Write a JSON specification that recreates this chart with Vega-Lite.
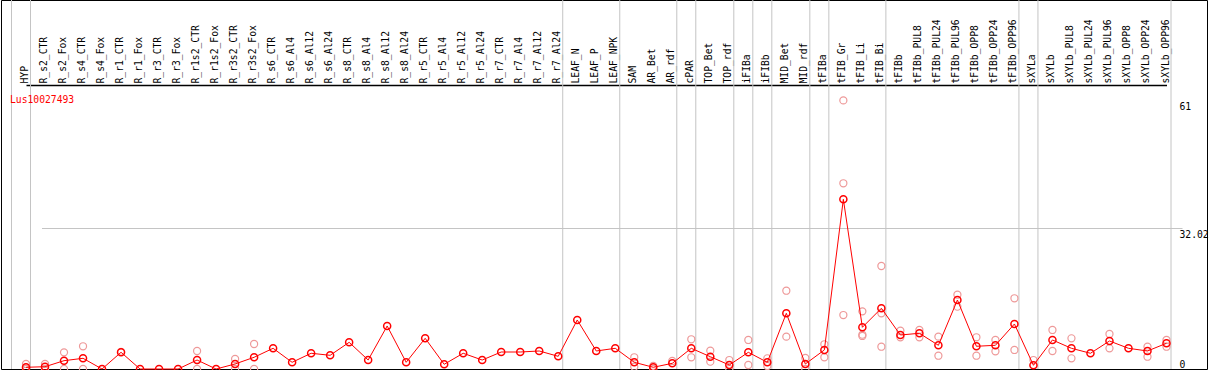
{
  "$schema": "https://vega.github.io/schema/vega-lite/v6.json",
  "width": 1206,
  "height": 369,
  "autosize": {"type": "none"},
  "padding": {"left": 1, "top": 0, "right": 2, "bottom": 1},
  "background": "white",
  "config": {"view": {"stroke": "black", "strokeWidth": 1}, "font": "DejaVu Sans Mono"},
  "title": {"text": "Lus10027493", "anchor": "start", "frame": "group", "color": "#ff0000", "font": "DejaVu Sans Mono", "fontSize": 9.7, "fontWeight": "normal", "offset": -113, "dx": 9, "baseline": "alphabetic"},
  "datasets": {
    "means": [
      {"cat": "HYP", "v": 0.39}, {"cat": "R_s2_CTR", "v": 0.52}, {"cat": "R_s2_Fox", "v": 1.89}, {"cat": "R_s4_CTR", "v": 2.43}, {"cat": "R_s4_Fox", "v": 0},
      {"cat": "R_r1_CTR", "v": 3.79}, {"cat": "R_r1_Fox", "v": 0}, {"cat": "R_r3_CTR", "v": 0}, {"cat": "R_r3_Fox", "v": 0}, {"cat": "R_r1s2_CTR", "v": 2.04},
      {"cat": "R_r1s2_Fox", "v": 0}, {"cat": "R_r3s2_CTR", "v": 1.14}, {"cat": "R_r3s2_Fox", "v": 2.66}, {"cat": "R_s6_CTR", "v": 4.7}, {"cat": "R_s6_Al4", "v": 1.52},
      {"cat": "R_s6_Al12", "v": 3.57}, {"cat": "R_s6_Al24", "v": 3.11}, {"cat": "R_s8_CTR", "v": 6.06}, {"cat": "R_s8_Al4", "v": 2.04}, {"cat": "R_s8_Al12", "v": 9.77},
      {"cat": "R_s8_Al24", "v": 1.52}, {"cat": "R_r5_CTR", "v": 6.97}, {"cat": "R_r5_Al4", "v": 1.07}, {"cat": "R_r5_Al12", "v": 3.57}, {"cat": "R_r5_Al24", "v": 2.04},
      {"cat": "R_r7_CTR", "v": 3.86}, {"cat": "R_r7_Al4", "v": 3.86}, {"cat": "R_r7_Al12", "v": 4.09}, {"cat": "R_r7_Al24", "v": 2.88}, {"cat": "LEAF_N", "v": 11.13},
      {"cat": "LEAF_P", "v": 4.09}, {"cat": "LEAF_NPK", "v": 4.7}, {"cat": "SAM", "v": 1.52}, {"cat": "AR_Bet", "v": 0.39}, {"cat": "AR_rdf", "v": 1.29},
      {"cat": "cPAR", "v": 4.7}, {"cat": "TOP_Bet", "v": 2.79}, {"cat": "TOP_rdf", "v": 0.91}, {"cat": "iFIBa", "v": 3.79}, {"cat": "iFIBb", "v": 1.52},
      {"cat": "MID_Bet", "v": 12.65}, {"cat": "MID_rdf", "v": 1.14}, {"cat": "tFIBa", "v": 4.32}, {"cat": "tFIB_Gr", "v": 38.54}, {"cat": "tFIB_Li", "v": 9.47},
      {"cat": "tFIB_Bi", "v": 13.79}, {"cat": "tFIBb", "v": 7.72}, {"cat": "tFIBb_PUL8", "v": 8.11}, {"cat": "tFIBb_PUL24", "v": 5.38}, {"cat": "tFIBb_PUL96", "v": 15.67},
      {"cat": "tFIBb_OPP8", "v": 5.16}, {"cat": "tFIBb_OPP24", "v": 5.38}, {"cat": "tFIBb_OPP96", "v": 10.22}, {"cat": "sXYLa", "v": 0.84}, {"cat": "sXYLb", "v": 6.59},
      {"cat": "sXYLb_PUL8", "v": 4.7}, {"cat": "sXYLb_PUL24", "v": 3.57}, {"cat": "sXYLb_PUL96", "v": 6.36}, {"cat": "sXYLb_OPP8", "v": 4.7}, {"cat": "sXYLb_OPP24", "v": 4.09},
      {"cat": "sXYLb_OPP96", "v": 5.84}
    ],
    "reps": [
      {"cat": "HYP", "v": 1.14}, {"cat": "HYP", "v": 0},
      {"cat": "R_s2_CTR", "v": 1.14}, {"cat": "R_s2_CTR", "v": 0},
      {"cat": "R_s2_Fox", "v": 3.79}, {"cat": "R_s2_Fox", "v": 0},
      {"cat": "R_s4_CTR", "v": 5.16}, {"cat": "R_s4_CTR", "v": 0},
      {"cat": "R_r1_CTR", "v": 3.9},
      {"cat": "R_r1s2_CTR", "v": 4.09}, {"cat": "R_r1s2_CTR", "v": 0},
      {"cat": "R_r3s2_CTR", "v": 2.27}, {"cat": "R_r3s2_CTR", "v": 0},
      {"cat": "R_r3s2_Fox", "v": 5.68}, {"cat": "R_r3s2_Fox", "v": 0},
      {"cat": "SAM", "v": 2.66}, {"cat": "SAM", "v": 0.52},
      {"cat": "AR_Bet", "v": 0.7}, {"cat": "AR_Bet", "v": 0},
      {"cat": "AR_rdf", "v": 1.82},
      {"cat": "cPAR", "v": 6.75}, {"cat": "cPAR", "v": 2.66},
      {"cat": "TOP_Bet", "v": 4.16}, {"cat": "TOP_Bet", "v": 1.66},
      {"cat": "TOP_rdf", "v": 2.04}, {"cat": "TOP_rdf", "v": 0},
      {"cat": "iFIBa", "v": 6.59}, {"cat": "iFIBa", "v": 0.91},
      {"cat": "iFIBb", "v": 2.43}, {"cat": "iFIBb", "v": 0.68},
      {"cat": "MID_Bet", "v": 17.78}, {"cat": "MID_Bet", "v": 7.34},
      {"cat": "MID_rdf", "v": 2.5}, {"cat": "MID_rdf", "v": 0},
      {"cat": "tFIBa", "v": 5.61}, {"cat": "tFIBa", "v": 2.66},
      {"cat": "tFIB_Gr", "v": 61}, {"cat": "tFIB_Gr", "v": 42.18}, {"cat": "tFIB_Gr", "v": 12.26},
      {"cat": "tFIB_Li", "v": 13.1}, {"cat": "tFIB_Li", "v": 7.79}, {"cat": "tFIB_Li", "v": 7.5},
      {"cat": "tFIB_Bi", "v": 23.39}, {"cat": "tFIB_Bi", "v": 12.65}, {"cat": "tFIB_Bi", "v": 5.06},
      {"cat": "tFIBb", "v": 8.7}, {"cat": "tFIBb", "v": 7.2},
      {"cat": "tFIBb_PUL8", "v": 8.86}, {"cat": "tFIBb_PUL8", "v": 7.2},
      {"cat": "tFIBb_PUL24", "v": 7.34}, {"cat": "tFIBb_PUL24", "v": 3.02},
      {"cat": "tFIBb_PUL96", "v": 16.87}, {"cat": "tFIBb_PUL96", "v": 14.15},
      {"cat": "tFIBb_OPP8", "v": 7.2}, {"cat": "tFIBb_OPP8", "v": 3.02},
      {"cat": "tFIBb_OPP24", "v": 6.59}, {"cat": "tFIBb_OPP24", "v": 4.02},
      {"cat": "tFIBb_OPP96", "v": 16.06}, {"cat": "tFIBb_OPP96", "v": 4.32},
      {"cat": "sXYLa", "v": 2.04},
      {"cat": "sXYLb", "v": 8.86}, {"cat": "sXYLb", "v": 4.09},
      {"cat": "sXYLb_PUL8", "v": 6.97}, {"cat": "sXYLb_PUL8", "v": 2.43},
      {"cat": "sXYLb_PUL96", "v": 7.95}, {"cat": "sXYLb_PUL96", "v": 4.7},
      {"cat": "sXYLb_OPP24", "v": 5.06}, {"cat": "sXYLb_OPP24", "v": 2.79},
      {"cat": "sXYLb_OPP96", "v": 6.59}, {"cat": "sXYLb_OPP96", "v": 5.06}
    ],
    "seps": [
      {"cat": "HYP"}, {"cat": "R_r7_Al24"}, {"cat": "LEAF_NPK"}, {"cat": "AR_rdf"}, {"cat": "cPAR"},
      {"cat": "TOP_rdf"}, {"cat": "iFIBa"}, {"cat": "iFIBb"}, {"cat": "MID_rdf"}, {"cat": "tFIBa"},
      {"cat": "tFIB_Bi"}, {"cat": "tFIBb_OPP96"}, {"cat": "sXYLa"}, {"cat": "sXYLb_OPP96"}
    ]
  },
  "layer": [
    {
      "data": {"name": "seps"},
      "mark": {"type": "rule", "color": "#c4c4c4", "strokeWidth": 1, "xOffset": 4.5},
      "encoding": {
        "x": {
          "field": "cat", "type": "nominal", "title": null,
          "scale": {"type": "point", "padding": 0, "range": [25, 1165.5], "domain": ["HYP","R_s2_CTR","R_s2_Fox","R_s4_CTR","R_s4_Fox","R_r1_CTR","R_r1_Fox","R_r3_CTR","R_r3_Fox","R_r1s2_CTR","R_r1s2_Fox","R_r3s2_CTR","R_r3s2_Fox","R_s6_CTR","R_s6_Al4","R_s6_Al12","R_s6_Al24","R_s8_CTR","R_s8_Al4","R_s8_Al12","R_s8_Al24","R_r5_CTR","R_r5_Al4","R_r5_Al12","R_r5_Al24","R_r7_CTR","R_r7_Al4","R_r7_Al12","R_r7_Al24","LEAF_N","LEAF_P","LEAF_NPK","SAM","AR_Bet","AR_rdf","cPAR","TOP_Bet","TOP_rdf","iFIBa","iFIBb","MID_Bet","MID_rdf","tFIBa","tFIB_Gr","tFIB_Li","tFIB_Bi","tFIBb","tFIBb_PUL8","tFIBb_PUL24","tFIBb_PUL96","tFIBb_OPP8","tFIBb_OPP24","tFIBb_OPP96","sXYLa","sXYLb","sXYLb_PUL8","sXYLb_PUL24","sXYLb_PUL96","sXYLb_OPP8","sXYLb_OPP24","sXYLb_OPP96"]},
          "axis": {"orient": "top", "offset": -85, "domain": true, "domainColor": "black", "domainWidth": 1.5, "ticks": false, "tickSize": 0, "grid": false, "labelAngle": 270, "labelAlign": "left", "labelBaseline": "middle", "labelPadding": 2, "labelFont": "DejaVu Sans Mono", "labelFontSize": 9.7, "labelColor": "black", "labelOverlap": false, "labelOffset": -1.5}
        }
      }
    },
    {
      "data": {"name": "seps"},
      "transform": [{"filter": "datum.cat == 'HYP'"}],
      "mark": {"type": "rule", "color": "#c4c4c4", "strokeWidth": 1, "xOffset": -14.5},
      "encoding": {"x": {"field": "cat", "type": "nominal", "title": null}}
    },
    {
      "data": {"name": "reps"},
      "mark": {"type": "point", "shape": "circle", "filled": false, "color": "#ee9999", "strokeWidth": 1.2, "size": 50, "opacity": 1},
      "encoding": {
        "x": {"field": "cat", "type": "nominal", "title": null},
        "y": {"field": "v", "type": "quantitative", "title": null}
      }
    },
    {
      "data": {"name": "means"},
      "mark": {"type": "line", "color": "#ff0000", "strokeWidth": 1},
      "encoding": {
        "x": {"field": "cat", "type": "nominal", "title": null, "sort": null},
        "y": {"field": "v", "type": "quantitative", "title": null}
      }
    },
    {
      "data": {"name": "means"},
      "mark": {"type": "point", "shape": "circle", "filled": false, "color": "#ff0000", "strokeWidth": 1.5, "size": 50, "opacity": 1},
      "encoding": {
        "x": {"field": "cat", "type": "nominal", "title": null},
        "y": {
          "field": "v", "type": "quantitative", "title": null,
          "scale": {"domain": [0, 83.8], "nice": false, "zero": false},
          "axis": {"orient": "right", "values": [0, 32.02, 61], "format": ".4~r", "domain": false, "ticks": false, "tickSize": 0, "labelPadding": -28, "labelAlign": "left", "labelBaseline": "top", "labelFlush": false, "labelOffset": {"condition": {"test": "datum.value == 0", "value": -10}, "value": 1.5}, "labelFont": "DejaVu Sans Mono", "labelFontSize": 9.7, "labelColor": "black", "grid": true, "gridColor": "#c4c4c4", "gridWidth": 1, "gridOpacity": {"condition": {"test": "datum.value == 32.02", "value": 1}, "value": 0}}
        }
      }
    }
  ]
}
